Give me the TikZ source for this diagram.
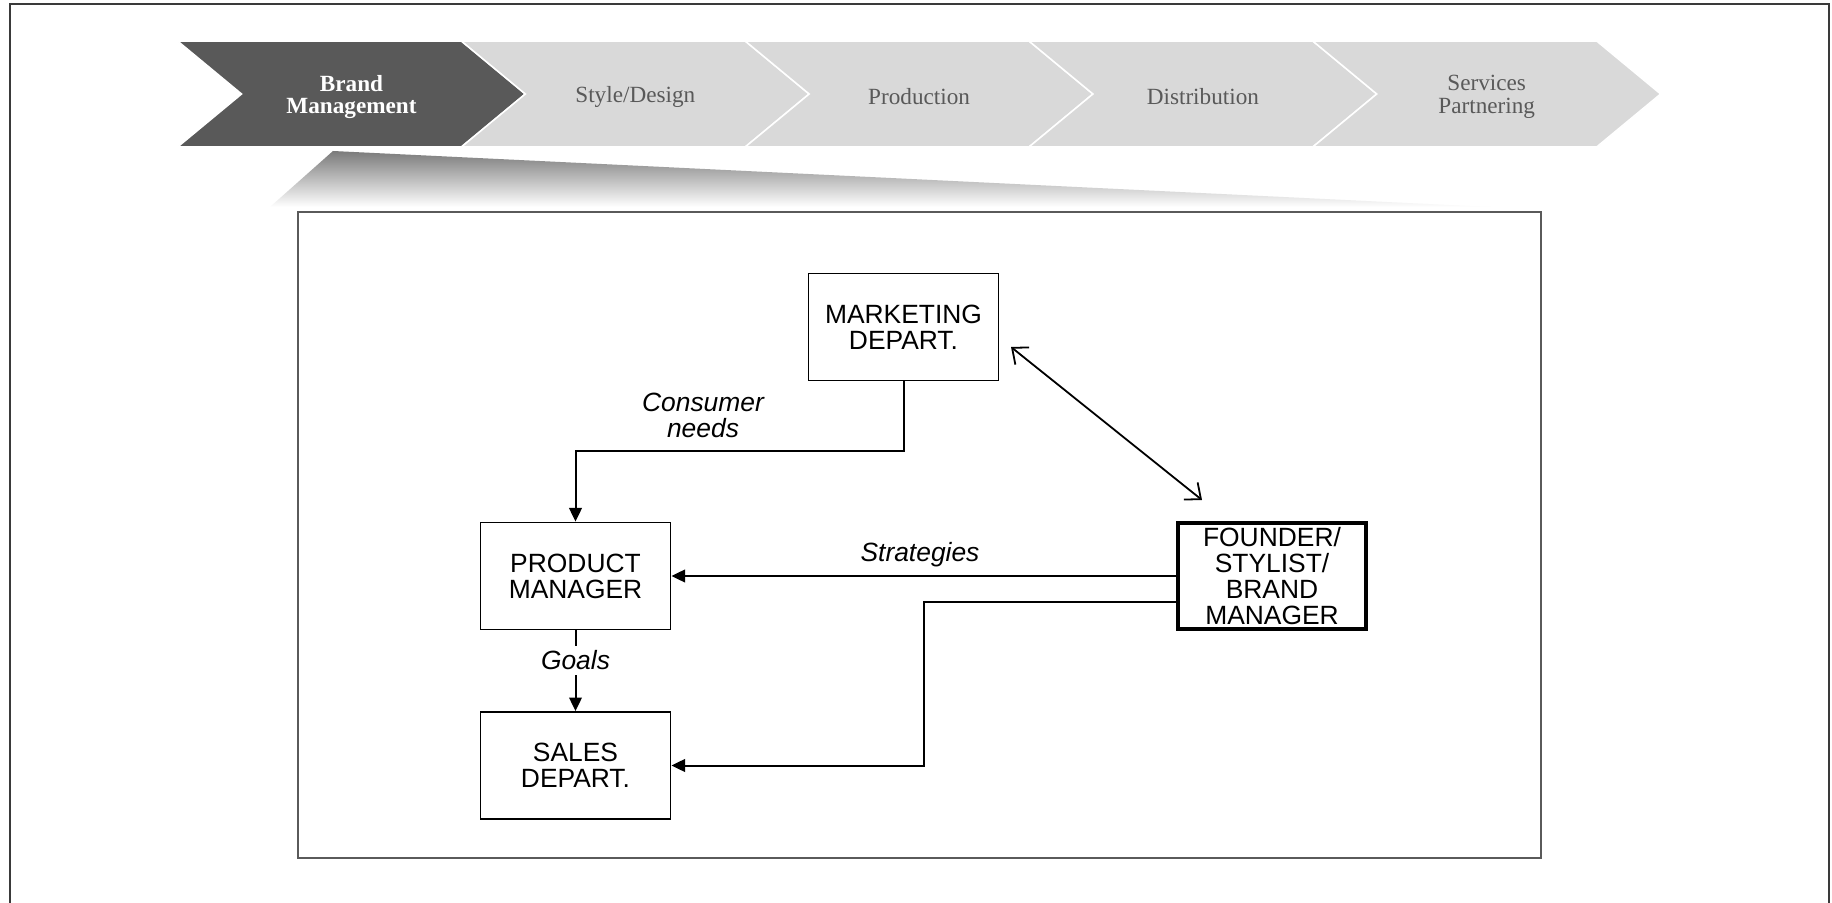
\documentclass[tikz,border=0pt]{standalone}
\usepackage{fontspec}
\setmainfont{Liberation Serif}
\setsansfont{Liberation Sans}
\usetikzlibrary{arrows.meta,calc}
\definecolor{chevdark}{HTML}{595959}
\definecolor{chevlight}{HTML}{D9D9D9}
\definecolor{chevtext}{HTML}{595959}
\definecolor{framec}{HTML}{3A3A3A}
\definecolor{innerc}{HTML}{5A5A5A}
\begin{document}
\begin{tikzpicture}[x=0.5pt,y=-0.5pt,
 box/.style={draw=black, line width=0.9pt, minimum width=95pt, minimum height=53.5pt, inner sep=0pt, align=center, font=\sffamily\fontsize{13.2}{13}\selectfont},
 chevtxt/.style={align=center, font=\rmfamily\fontsize{11.6}{11}\selectfont, text=chevtext},
 lbl/.style={font=\sffamily\itshape\fontsize{13.2}{13}\selectfont, align=center},
 conn/.style={line width=1pt, -{Triangle[length=6.8pt,width=6.3pt]}},
 dbl/.style={line width=0.9pt, {Straight Barb[length=6.5pt,width=11pt]}-{Straight Barb[length=6.5pt,width=11pt]}},
 chev/.style={draw=white, line width=0.8pt}]
\useasboundingbox (0,0) rectangle (1832,903);
\fill[white] (0,0) rectangle (1832,903);
\draw[framec, line width=1.3pt] (10,910) -- (10,4) -- (1829,4) -- (1829,910);
% chevrons
\foreach \i/\f in {0/chevdark,1/chevlight,2/chevlight,3/chevlight,4/chevlight}{
  \pgfmathsetmacro\xo{177.5+283.8*\i}
  \path[fill=\f, chev] (\xo,41) -- ++(284,0) -- ++(64,53) -- ++(-64,53) -- ++(-284,0) -- ++(64,-53) -- cycle;
}
\node[chevtxt, text=white, font=\rmfamily\bfseries\fontsize{11.6}{11.3}\selectfont] (c1) at (351.5,97) {Brand\\Management};
\node[chevtxt] (c2) at (635.3,96.5) {Style/Design};
\node[chevtxt] (c3) at (919.1,96.5) {Production};
\node[chevtxt] (c4) at (1202.9,96.5) {Distribution};
\node[chevtxt, font=\rmfamily\fontsize{11.6}{11.3}\selectfont] (c5) at (1486.7,97) {Services\\Partnering};
% gradient wedge
\shade[top color=black!52, bottom color=white] (333,151) -- (1490,207) -- (270,207) -- cycle;
% inner box
\draw[innerc, line width=0.9pt] (298,212) rectangle (1541,858);
% boxes
\node[box] (mkt) at (903.5,327) {MARKETING\\DEPART.};
\node[box] (pm) at (575.5,576) {PRODUCT\\MANAGER};
\node[box] (sales) at (575.5,765.5) {SALES\\DEPART.};
\node[box, line width=2pt, minimum width=94pt, minimum height=53pt] (fnd) at (1272,576) {FOUNDER/\\STYLIST/\\BRAND\\MANAGER};
% connectors
\coordinate (cn) at (904,451);
\draw[conn] (mkt.south) -- (mkt.south |- cn) -| (pm.north);
\node[lbl] (lcons) at (703,415) {Consumer\\needs};
\draw[conn] (fnd.west) -- (pm.east);
\node[lbl, anchor=base] (lstrat) at (920,561) {Strategies};
\coordinate (f2) at ($(fnd.west)+(0,26)$);
\coordinate (bend) at (924,765.5);
\draw[conn] (f2) -| (bend) -- (sales.east);
\draw[conn] (pm.south) -- (sales.north) node[lbl, pos=0.37, fill=white, inner sep=2.5pt] (lgoals) {Goals};
\coordinate (d1) at (1011,347);
\coordinate (d2) at (1202,500);
\draw[dbl] (d1) -- (d2);
\end{tikzpicture}
\end{document}
